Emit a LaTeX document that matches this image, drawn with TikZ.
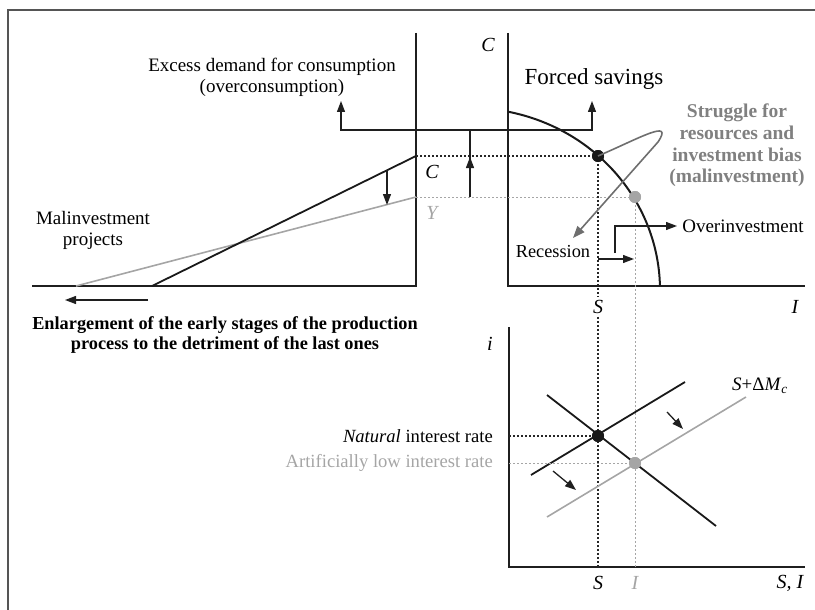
\documentclass[tikz,border=0pt]{standalone}
\usepackage{fontspec}
\setmainfont{Liberation Serif}
\usetikzlibrary{arrows.meta}
\definecolor{lgray}{HTML}{A5A5A5}
\definecolor{mgray}{HTML}{6E6E6E}
\definecolor{tgray}{HTML}{808080}
\definecolor{framec}{HTML}{555555}
\begin{document}
\begin{tikzpicture}[x=1pt,y=-1pt,
  axis/.style={line width=1.3pt, black!88},
  blk/.style={line width=1.8pt, black!90},
  gry/.style={line width=1.6pt, lgray},
  bdot/.style={line width=1.4pt, black!85, dash pattern=on 2pt off 2pt},
  gdot/.style={line width=1pt, lgray, dash pattern=on 2pt off 2pt},
  arr/.style={line width=1.3pt, black!88, -{Triangle[length=11pt,width=8pt]}},
  sarr/.style={line width=1.3pt, black!88, -{Triangle[length=11pt,width=8pt]}},
  txt/.style={font=\fontsize{19}{21}\selectfont, inner sep=0pt},
  lab/.style={font=\fontsize{20}{22}\selectfont\itshape, inner sep=1pt},
  dotb/.style={circle, fill=black!90, minimum size=12pt, inner sep=0pt},
  dotg/.style={circle, fill=lgray, minimum size=12pt, inner sep=0pt}
]
\useasboundingbox (0,0) rectangle (815,610);
\clip (0,0) rectangle (815,610);
% frame
\draw[framec, line width=1.5pt] (8,625) -- (8,10) -- (830,10);

% ---------- coordinates ----------
\coordinate (tlTop) at (416,33);
\coordinate (tlCorner) at (416,286);
\coordinate (tlLeft) at (32,286);
\coordinate (trTop) at (508,33);
\coordinate (trCorner) at (508,286);
\coordinate (trRight) at (805,286);
\coordinate (bTop) at (509,327);
\coordinate (bCorner) at (509,567);
\coordinate (bRight) at (805,567);

% ---------- axes ----------
\draw[axis] (tlTop) -- (tlCorner) -- (tlLeft);
\draw[axis] (trTop) -- (trCorner) -- (trRight);
\draw[axis] (bTop) -- (bCorner) -- (bRight);

% ---------- left panel lines ----------
\coordinate (gA) at (76,286);
\coordinate (gB) at (416,197);
\coordinate (kA) at (152,286);
\coordinate (kB) at (416,156);
\draw[gry] (gA) -- (gB);
\draw[blk] (kA) -- (kB);
\coordinate (dn1) at (387,170);
\coordinate (dn2) at (387,205);
\draw[arr] (dn1) -- (dn2);
\coordinate (la1) at (148,300);
\coordinate (la2) at (65,300);
\draw[arr] (la1) -- (la2);

% ---------- dots and dotted lines (top) ----------
\node[dotb] (bd) at (598,156) {};
\node[dotg] (gd) at (635,197) {};
\coordinate (bdL) at (416,156);
\coordinate (gdL) at (416,197);
\coordinate (bdB) at (598,567);
\coordinate (gdB) at (635,567);
\draw[gdot] (gdL) -- (gd.center);
\draw[gdot] (gd.center) -- (gdB);
\draw[bdot] (bdL) -- (bd.center);

% ---------- labels S (top), with gap ----------
\node[lab, fill=white, inner sep=3pt] (Stop) at (598,307) {S};
\draw[bdot] (bd.center) -- (Stop.north);
\draw[bdot] (Stop.south) -- (bdB);
\node[lab] (Itop) at (795,307) {I};

% ---------- production possibility curve ----------
\draw[line width=2pt, black!90] plot[domain=78.5:1.3, samples=80, smooth] ({470+190*cos(\x)},{290-182*sin(\x)});
\node[dotb] at (bd) {};
\node[dotg] at (gd) {};

% ---------- overconsumption bracket ----------
\coordinate (e1) at (341,101);
\coordinate (e2) at (341,130);
\coordinate (e3) at (592,130);
\coordinate (e4) at (592,101);
\draw[line width=1.3pt, black!88, {Triangle[length=11pt,width=8pt]}-{Triangle[length=11pt,width=8pt]}] (e1) -- (e2) -- (e3) -- (e4);
\coordinate (st1) at (470,197);
\coordinate (st2) at (470,157);
\coordinate (st3) at (470,130);
\draw[line width=1.3pt, black!88] (st1) -- (st3);
\draw[arr] (st1) -- (st2);

% ---------- struggle loop ----------
\coordinate (lp1) at (658,142);
\coordinate (lp2) at (573,238);
\draw[line width=1.6pt, mgray, -{Triangle[length=12pt,width=9pt]}] (bd.center) .. controls (640,138) and (674,118) .. (lp1) -- (lp2);

% ---------- overinvestment arrows ----------
\coordinate (o1) at (615,253);
\coordinate (o2) at (615,226);
\coordinate (o3) at (677,226);
\draw[arr] (o1) -- (o2) -- (o3);
\coordinate (r1) at (598,259);
\coordinate (r2) at (634,259);
\draw[sarr] (r1) -- (r2);

% ---------- texts top ----------
\node[txt, align=center] (excess) at (272,77.5) {Excess demand for consumption\\(overconsumption)};
\node[inner sep=0pt, font=\fontsize{23}{26}\selectfont] (forced) at (594,79) {Forced savings};
\node[txt, align=center, text=tgray, font=\fontsize{19.5}{21.7}\selectfont\bfseries] (struggle) at (737,145.5) {Struggle for\\resources and\\investment bias\\(malinvestment)};
\node[txt, font=\fontsize{18.3}{20}\selectfont] (recession) at (553,252) {Recession};
\node[txt] (overinv) at (743,226) {Overinvestment};
\node[txt, align=center] (malinv) at (93,230.5) {Malinvestment\\projects};
\node[txt, align=center, font=\fontsize{18.3}{20}\selectfont\bfseries] (enlarg) at (225,335) {Enlargement of the early stages of the production\\process to the detriment of the last ones};
\node[lab] (Ctop) at (488,45) {C};
\node[lab] (Cmid) at (432,172) {C};
\node[lab, text=lgray] (Ymid) at (432,213) {Y};

% ---------- bottom panel ----------
\node[lab] (ilab) at (490,344) {i};
\coordinate (sa) at (531,475);
\coordinate (sb) at (685,382);
\coordinate (ia) at (547,395);
\coordinate (ib) at (716,526);
\coordinate (ga) at (547,517);
\coordinate (gb) at (746,397);
\draw[gry] (ga) -- (gb);
\draw[blk] (sa) -- (sb);
\draw[blk] (ia) -- (ib);
\coordinate (nL) at (509,436);
\coordinate (aL) at (509,463);
\node[dotb] (nd) at (598,436) {};
\node[dotg] (ad) at (635,463) {};
\draw[bdot] (nL) -- (nd.center);
\draw[gdot] (aL) -- (ad.center);
\node[dotb] at (nd) {};
\node[dotg] at (ad) {};
\coordinate (m1) at (667,412);
\coordinate (m2) at (683,429);
\draw[sarr] (m1) -- (m2);
\coordinate (m3) at (553,471);
\coordinate (m4) at (576,490);
\draw[sarr] (m3) -- (m4);
\node[txt, anchor=east, font=\fontsize{18.6}{20}\selectfont] (natural) at (493,436) {\textit{Natural} interest rate};
\node[txt, anchor=east, text=lgray, font=\fontsize{18.6}{20}\selectfont] (artif) at (493,463) {Artificially low interest rate};
\node[lab] (Sbot) at (598,583) {S};
\node[lab, text=lgray] (Ibot) at (635,583) {I};
\node[lab] (SI) at (790,583) {S, I};
\node[txt] (smc) at (760,386) {\textit{S}+Δ\textit{M}\textsubscript{\textit{c}}};
\end{tikzpicture}
\end{document}
